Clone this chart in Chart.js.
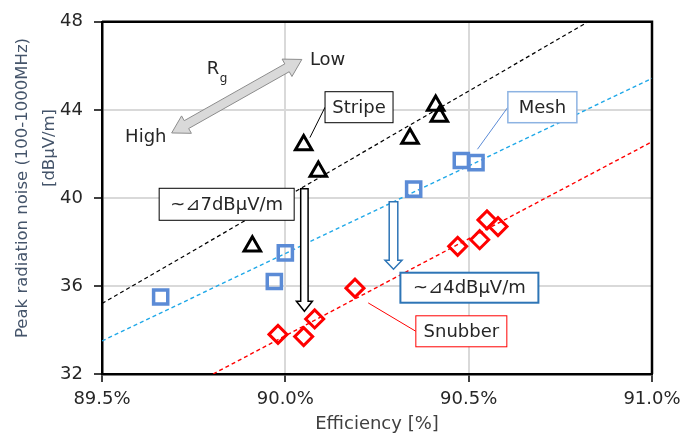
<!DOCTYPE html>
<html>
<head>
<meta charset="utf-8">
<script src="https://cdn.jsdelivr.net/npm/chart.js@4.4.0/dist/chart.umd.min.js"></script>
<style>
  html, body { margin: 0; padding: 0; background: #fff; }
  #wrap { width: 699px; height: 439px; }
</style>
</head>
<body>
<div id="wrap"><canvas id="chart"></canvas></div>
<script>
// values
const stripeX = [90.05, 90.09, 90.41, 90.42, 90.34, 89.91];
const stripeY = [42.4, 41.2, 44.2, 43.7, 42.7, 37.8];
const meshX = [89.66, 89.97, 90.00, 90.35, 90.48, 90.52];
const meshY = [35.5, 36.2, 37.5, 40.4, 41.7, 41.6];
const snubX = [89.98, 90.05, 90.08, 90.19, 90.47, 90.53, 90.55, 90.58];
const snubY = [33.8, 33.7, 34.5, 35.9, 37.8, 38.1, 39.0, 38.7];

// linear trend lines (end points)
const stripeTrendX = [89.5, 90.826];
const stripeTrendY = [35.2, 48];
const meshTrendX = [89.5, 91.0];
const meshTrendY = [33.5, 45.43];
const snubTrendX = [89.803, 91.0];
const snubTrendY = [32, 42.55];

const xTicks = [89.5, 90.0, 90.5, 91.0];
const yTicks = [32, 36, 40, 44, 48];

const FONT = "'DejaVu Sans', 'Noto Sans CJK JP', sans-serif";
const textColor = '#262626';
const gridColor = '#d9d9d9';
const meshBlue = '#5b8bd6';
const darkBlue = '#2e75b6';

const pts = (xs, ys) => xs.map((x, i) => ({ x: x, y: ys[i] }));

function arrowPath(ctx, x1, y1, x2, y2, w, hw, hl, both) {
  const dx = x2 - x1, dy = y2 - y1;
  const len = Math.hypot(dx, dy);
  const ux = dx / len, uy = dy / len;
  const nx = -uy, ny = ux;
  const P = (t, s) => [x1 + ux * t + nx * s, y1 + uy * t + ny * s];
  const startT = both ? hl : 0;
  const endT = len - hl;
  const poly = [];
  if (both) {
    poly.push(P(0, 0), P(hl, hw), P(hl, w));
  } else {
    poly.push(P(0, w));
  }
  poly.push(P(endT, w), P(endT, hw), P(len, 0), P(endT, -hw), P(endT, -w));
  if (both) {
    poly.push(P(startT, -w), P(hl, -hw));
  } else {
    poly.push(P(0, -w));
  }
  ctx.beginPath();
  poly.forEach((p, i) => i ? ctx.lineTo(p[0], p[1]) : ctx.moveTo(p[0], p[1]));
  ctx.closePath();
}

function box(ctx, cx, cy, w, h, border, lw, label) {
  ctx.fillStyle = '#fff';
  ctx.fillRect(cx - w / 2, cy - h / 2, w, h);
  ctx.strokeStyle = border;
  ctx.lineWidth = lw;
  ctx.strokeRect(cx - w / 2, cy - h / 2, w, h);
  ctx.fillStyle = textColor;
  ctx.font = '18px ' + FONT;
  ctx.textAlign = 'center';
  ctx.textBaseline = 'middle';
  ctx.fillText(label, cx, cy + 1);
}

function leader(ctx, x1, y1, x2, y2, color, lw) {
  ctx.strokeStyle = color;
  ctx.lineWidth = lw;
  ctx.beginPath();
  ctx.moveTo(x1, y1);
  ctx.lineTo(x2, y2);
  ctx.stroke();
}

const framePlugin = {
  id: 'frame',
  beforeDatasetsDraw(chart) {
    const { ctx, chartArea: a } = chart;
    ctx.save();
    ctx.strokeStyle = '#000';
    ctx.lineWidth = 2.5;
    ctx.beginPath();
    ctx.moveTo(a.left, a.top);
    ctx.lineTo(a.right, a.top);
    ctx.lineTo(a.right, a.bottom);
    ctx.stroke();
    ctx.restore();
  }
};

const notesPlugin = {
  id: 'notes',
  afterDatasetsDraw(chart) {
    const { ctx } = chart;
    const sx = chart.scales.x, sy = chart.scales.y;
    const X = v => sx.getPixelForValue(v);
    const Y = v => sy.getPixelForValue(v);
    ctx.save();

    // Rg double arrow
    arrowPath(ctx, X(89.690), Y(42.95), X(90.045), Y(46.29), 4.5, 10, 17, true);
    ctx.fillStyle = '#d9d9d9';
    ctx.fill();
    ctx.strokeStyle = '#8c8c8c';
    ctx.lineWidth = 1;
    ctx.stroke();

    ctx.fillStyle = textColor;
    ctx.textBaseline = 'middle';
    ctx.textAlign = 'left';
    ctx.font = '18px ' + FONT;
    ctx.fillText('Low', X(90.067), Y(46.26));
    ctx.fillText('High', X(89.563), Y(42.74));
    ctx.fillText('R', X(89.786), Y(45.82));
    ctx.font = '12px ' + FONT;
    ctx.fillText('g', X(89.786) + 13, Y(45.82) + 9);

    // leader lines
    leader(ctx, X(90.201) - 34, Y(44.12), X(90.067), Y(42.74), '#000', 1);
    leader(ctx, X(90.701) - 34.5, Y(44.12), X(90.524), Y(42.21), meshBlue, 1);
    leader(ctx, X(90.480) - 45.5, Y(33.94), X(90.226), Y(35.23), '#ff0000', 1);

    // hollow down arrows
    arrowPath(ctx, X(90.052), Y(40.42), X(90.052), Y(34.85), 3.7, 8, 10, false);
    ctx.fillStyle = '#fff';
    ctx.fill();
    ctx.strokeStyle = '#000';
    ctx.lineWidth = 1.5;
    ctx.stroke();

    arrowPath(ctx, X(90.295), Y(39.83), X(90.295), Y(36.76), 4.3, 8.5, 9, false);
    ctx.fillStyle = '#fff';
    ctx.fill();
    ctx.strokeStyle = darkBlue;
    ctx.lineWidth = 1.5;
    ctx.stroke();

    // callout boxes
    box(ctx, X(90.201), Y(44.12), 68, 31, '#000', 1, 'Stripe');
    box(ctx, X(90.701), Y(44.12), 69, 31, '#8db3e2', 1.5, 'Mesh');
    box(ctx, X(89.840), Y(39.71), 135, 32, '#000', 1, '~\u22BF7dB\u03BCV/m');
    box(ctx, X(90.502), Y(35.92), 138, 30, darkBlue, 2, '~\u22BF4dB\u03BCV/m');
    box(ctx, X(90.480), Y(33.94), 91, 31, '#ff0000', 1, 'Snubber');

    ctx.restore();
  },
  afterDraw(chart) {
    const { ctx, chartArea: a } = chart;
    ctx.save();
    ctx.fillStyle = '#404040';
    ctx.textAlign = 'center';
    ctx.textBaseline = 'middle';
    ctx.font = '18px ' + FONT;
    ctx.fillText('Efficiency [%]', (a.left + a.right) / 2, 424);

    ctx.fillStyle = '#44546a';
    ctx.font = '16.5px ' + FONT;
    ctx.translate(23, 188);
    ctx.rotate(-Math.PI / 2);
    ctx.fillText('Peak radiation noise (100-1000MHz)', 0, 0);
    ctx.fillText('[dB\u03BCV/m]', 40, 27);
    ctx.restore();
  }
};

new Chart(document.getElementById('chart'), {
  type: 'scatter',
  data: {
    datasets: [
      {
        label: 'Stripe',
        data: pts(stripeX, stripeY),
        pointStyle: 'triangle',
        pointRadius: 9.5,
        borderColor: '#000',
        backgroundColor: 'rgba(0,0,0,0)',
        borderWidth: 3,
        order: 1
      },
      {
        label: 'Mesh',
        data: pts(meshX, meshY),
        pointStyle: 'rect',
        pointRadius: 10,
        borderColor: meshBlue,
        backgroundColor: 'rgba(0,0,0,0)',
        borderWidth: 3.5,
        order: 1
      },
      {
        label: 'Snubber',
        data: pts(snubX, snubY),
        pointStyle: 'rectRot',
        pointRadius: 9,
        borderColor: '#ff0000',
        backgroundColor: 'rgba(0,0,0,0)',
        borderWidth: 3,
        order: 1
      },
      {
        label: 'Stripe trend',
        data: pts(stripeTrendX, stripeTrendY),
        showLine: true,
        pointRadius: 0,
        borderColor: '#000',
        borderWidth: 1.2,
        borderDash: [4, 3],
        order: 2
      },
      {
        label: 'Mesh trend',
        data: pts(meshTrendX, meshTrendY),
        showLine: true,
        pointRadius: 0,
        borderColor: '#1fa8e8',
        borderWidth: 1.4,
        borderDash: [4, 3],
        order: 2
      },
      {
        label: 'Snubber trend',
        data: pts(snubTrendX, snubTrendY),
        showLine: true,
        pointRadius: 0,
        borderColor: '#ff0000',
        borderWidth: 1.4,
        borderDash: [4, 3],
        order: 2
      }
    ]
  },
  options: {
    responsive: true,
    maintainAspectRatio: false,
    animation: false,
    events: [],
    layout: { padding: { top: 15, right: 47, left: 0, bottom: 0 } },
    plugins: {
      legend: { display: false },
      tooltip: { enabled: false }
    },
    scales: {
      x: {
        type: 'linear',
        min: 89.5,
        max: 91.0,
        afterBuildTicks: s => { s.ticks = xTicks.map(v => ({ value: v })); },
        afterFit: s => { s.height = 65; },
        grid: { color: gridColor, lineWidth: 2, tickColor: '#000', tickLength: 8, tickWidth: 1.5 },
        border: { display: true, color: '#000', width: 2.5 },
        ticks: {
          color: textColor,
          font: { family: FONT, size: 18 },
          padding: 7,
          maxRotation: 0,
          callback: v => v.toFixed(1) + '%'
        }
      },
      y: {
        type: 'linear',
        min: 32,
        max: 48,
        afterBuildTicks: s => { s.ticks = yTicks.map(v => ({ value: v })); },
        afterFit: s => { s.width = 102; },
        grid: { color: gridColor, lineWidth: 2, tickColor: '#000', tickLength: 8, tickWidth: 1.5 },
        border: { display: true, color: '#000', width: 2.5 },
        ticks: {
          color: textColor,
          font: { family: FONT, size: 18 },
          padding: 11
        }
      }
    }
  },
  plugins: [framePlugin, notesPlugin]
});
</script>
</body>
</html>
